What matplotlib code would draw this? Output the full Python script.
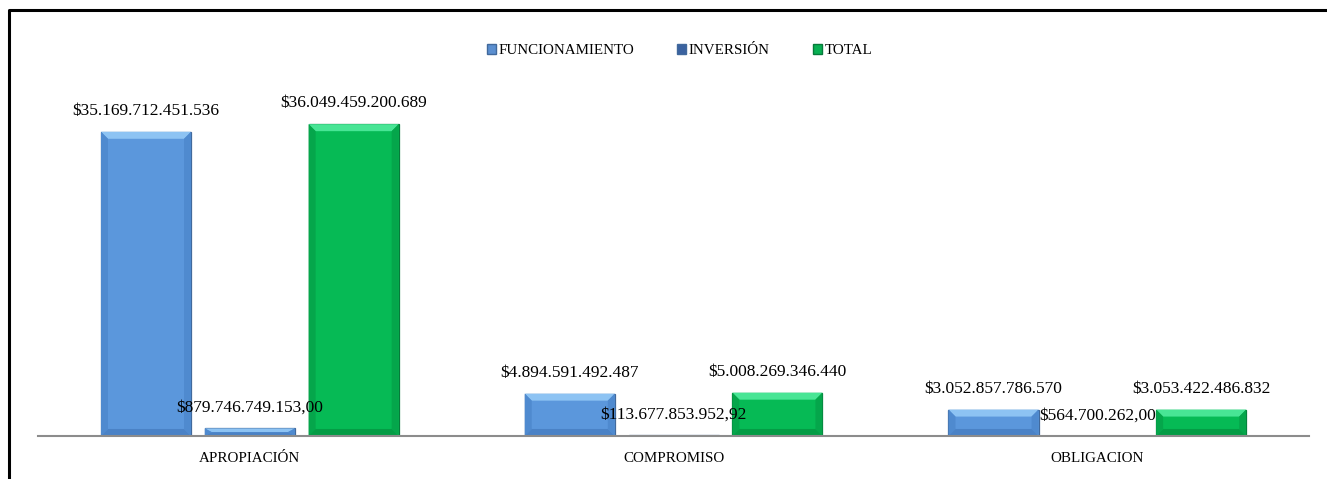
import numpy as np
import matplotlib.pyplot as plt
from matplotlib.patches import Patch
from matplotlib.lines import Line2D

categorias = ["APROPIACIÓN", "COMPROMISO", "OBLIGACION"]
series = ["FUNCIONAMIENTO", "INVERSIÓN", "TOTAL"]
funcionamiento = [35169712451536, 4894591492487, 3052857786570]
inversion = [879746749153.00, 113677853952.92, 564700262.00]
total = [36049459200689, 5008269346440, 3053422486832]
decimales = [0, 2, 0]

colores = ["#5b97dc", "#5b97dc", "#06ba55"]
bordes = ["#41699c", "#41699c", "#067a3a"]
brillo = ["#8dc3f3", "#8dc3f3", "#48e595"]
lados = ["#4f8acf", "#4f8acf", "#05a64b"]
fondo = ["#4a82c6", "#4a82c6", "#049c45"]
color_leyenda = ["#5b8fd0", "#3a62a0", "#08b052"]


def formato(v, dec):
    s = f"{v:,.{dec}f}"
    s = s.replace(",", "X").replace(".", ",").replace("X", ".")
    return "$" + s


plt.rcParams['font.family'] = ['Liberation Serif', 'DejaVu Serif']

fig = plt.figure(figsize=(13.27, 4.79), dpi=100)
ax = fig.add_axes([0.0286, 0.0898, 0.958, 0.7223])

x = np.arange(len(categorias))
ancho = 0.2125
paso = 0.245
ymax = 40e12
ax.set_ylim(0, ymax)
ax.set_xlim(-0.5, 2.5)

# tamano del bisel (~7 px) en unidades de datos
bx = 7 / 423.7
by = 7 * ymax / 346

for i, vals in enumerate([funcionamiento, inversion, total]):
    pos = x + (i - 1) * paso
    ax.bar(pos, vals, ancho, color=colores[i], edgecolor=bordes[i], linewidth=0.9, zorder=2)
    for p, v in zip(pos, vals):
        l, r = p - ancho / 2, p + ancho / 2
        d = min(by, v / 2)
        # bisel: arriba claro, lados y base mas oscuros
        ax.fill([l, r, r - bx, l + bx], [v, v, v - d, v - d], color=brillo[i], lw=0, zorder=3)
        ax.fill([l, l + bx, l + bx, l], [v, v - d, d, 0], color=lados[i], lw=0, zorder=3)
        ax.fill([r, r - bx, r - bx, r], [v, v - d, d, 0], color=lados[i], lw=0, zorder=3)
        ax.fill([l, r, r - bx, l + bx], [0, 0, d, d], color=fondo[i], lw=0, zorder=3)
        ax.annotate(formato(v, decimales[i]), (p, v), xytext=(0, 15), textcoords="offset points",
                    ha="center", va="center", fontsize=12.5, zorder=5)

ax.set_xticks(x)
ax.set_xticklabels(categorias, fontsize=10.8)
ax.tick_params(axis="x", length=0, pad=11.5)
ax.set_yticks([])
for lado in ["top", "right", "left"]:
    ax.spines[lado].set_visible(False)
ax.spines["bottom"].set_color("#8c8c8c")
ax.spines["bottom"].set_linewidth(1.5)
ax.spines["bottom"].set_zorder(4)

handles = [Patch(facecolor=color_leyenda[i], edgecolor=bordes[i], label=series[i]) for i in range(3)]
fig.legend(handles=handles, loc="center", bbox_to_anchor=(0.512, 0.894), ncol=3, frameon=False,
           fontsize=10.8, handlelength=0.6, handleheight=0.6, handletextpad=0.15, columnspacing=2.9)

# marco del grafico
fig.add_artist(Line2D([0.0068, 0.0068, 1.0], [0.0, 0.979, 0.979], color="black", lw=2.2,
                      transform=fig.transFigure))

fig.savefig("out.png", dpi=100)
